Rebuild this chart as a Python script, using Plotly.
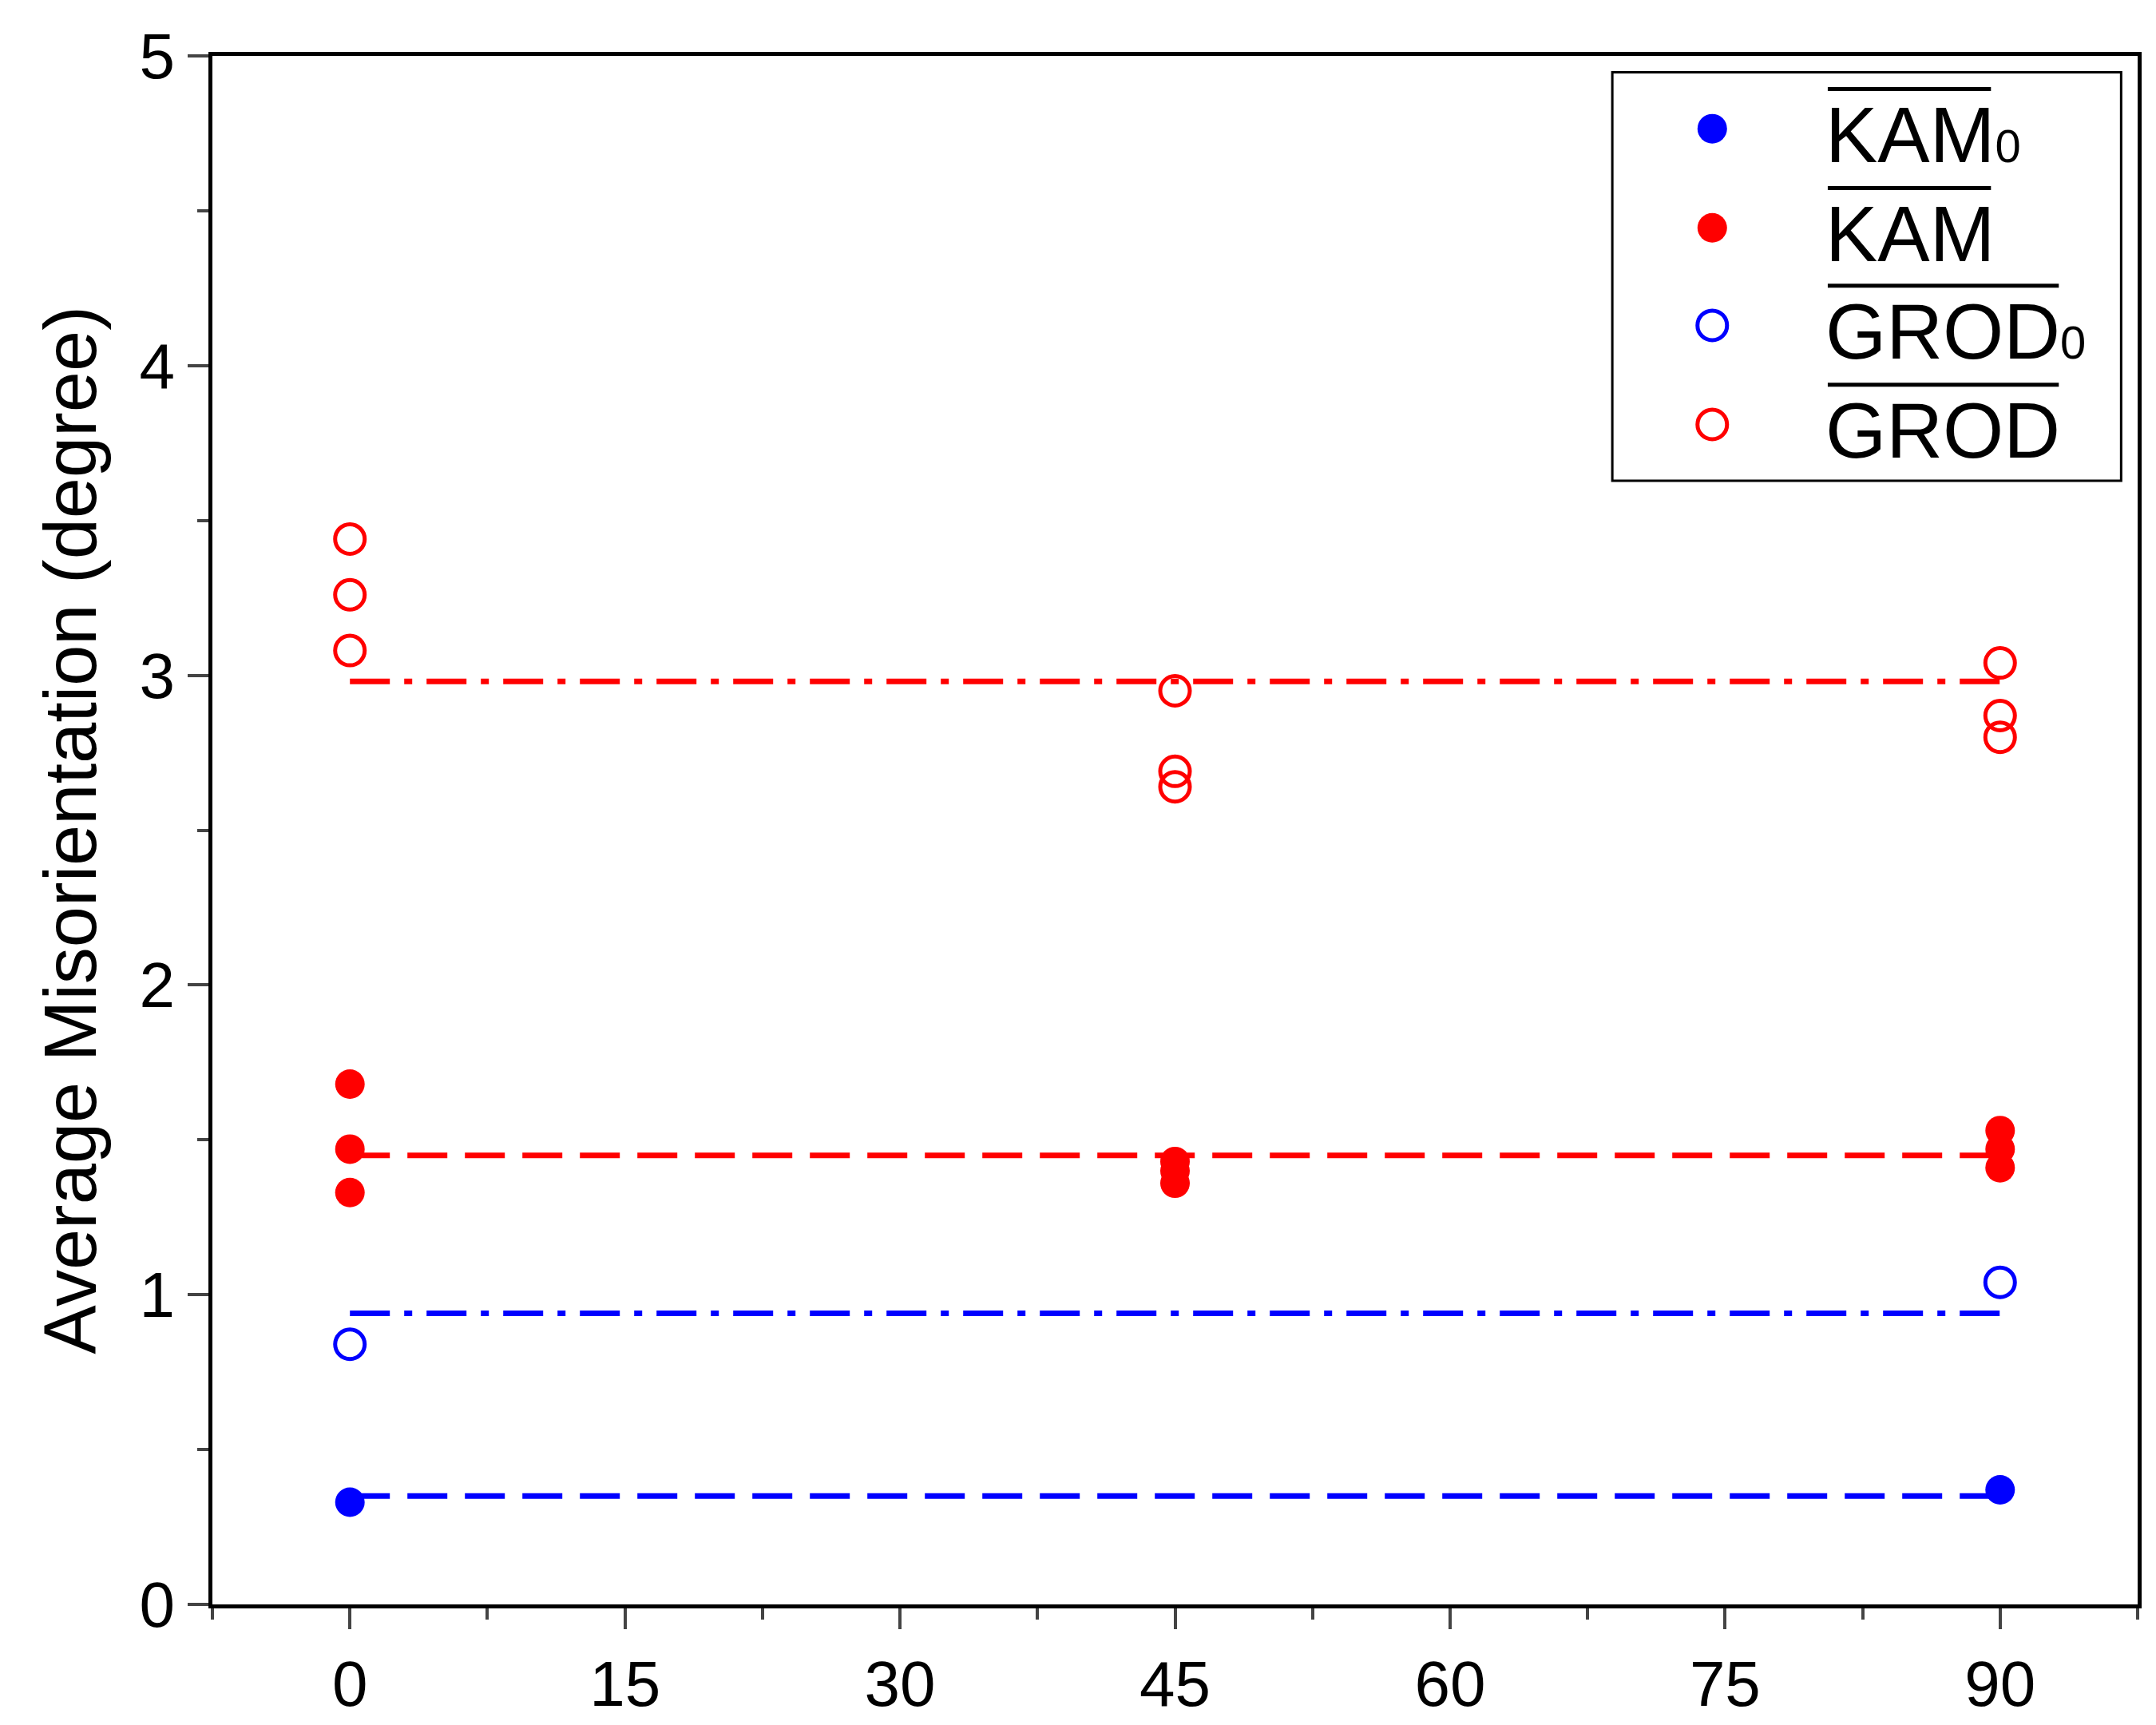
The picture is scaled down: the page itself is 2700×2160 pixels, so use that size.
import plotly.graph_objects as go

angles_kam0 = [0, 90]
kam0 = [0.33, 0.37]
kam0_mean = 0.35
angles_multi = [0, 0, 0, 45, 45, 45, 90, 90, 90]
kam = [1.68, 1.47, 1.33, 1.43, 1.40, 1.36, 1.53, 1.47, 1.41]
kam_mean = 1.45
angles_grod0 = [0, 90]
grod0 = [0.84, 1.04]
grod0_mean = 0.94
grod = [3.44, 3.26, 3.08, 2.95, 2.69, 2.64, 3.04, 2.87, 2.80]
grod_mean = 2.98
xticks = [0, 15, 30, 45, 60, 75, 90]

BLUE = "#0000ff"; RED = "#ff0000"
MS = 37; LW = 5
DASH = "50px,22px"
DASHDOT = "50px,18px,10px,18px"
fig = go.Figure()
for y, c, d in [(kam0_mean, BLUE, DASH), (kam_mean, RED, DASH),
                (grod0_mean, BLUE, DASHDOT), (grod_mean, RED, DASHDOT)]:
    fig.add_trace(go.Scatter(x=[0, 90], y=[y, y], mode="lines",
                             line=dict(color=c, width=7, dash=d), showlegend=False))
fig.add_trace(go.Scatter(x=angles_kam0, y=kam0, mode="markers", marker=dict(color=BLUE, size=MS)))
fig.add_trace(go.Scatter(x=angles_multi, y=kam, mode="markers", marker=dict(color=RED, size=MS)))
fig.add_trace(go.Scatter(x=angles_grod0, y=grod0, mode="markers",
                         marker=dict(color="rgba(0,0,0,0)", size=MS, line=dict(color=BLUE, width=LW))))
fig.add_trace(go.Scatter(x=angles_multi, y=grod, mode="markers",
                         marker=dict(color="rgba(0,0,0,0)", size=MS, line=dict(color=RED, width=LW))))

# manual legend
ly = [4.765, 4.445, 4.13, 3.81]
names = ["KAM<span style='font-size:58px'>0</span>", "KAM",
         "GROD<span style='font-size:58px'>0</span>", "GROD"]
olen = [89.5, 89.5, 93.2, 93.2]
cols = [BLUE, RED, BLUE, RED]
fills = [True, True, False, False]
fig.add_shape(type="rect", x0=68.85, x1=96.6, y0=3.628, y1=4.947,
              line=dict(color="black", width=3), fillcolor="white", layer="below")
for i in range(4):
    fig.add_trace(go.Scatter(x=[74.3], y=[ly[i]], mode="markers",
                             marker=dict(color=cols[i] if fills[i] else "rgba(0,0,0,0)", size=MS,
                                         line=dict(color=cols[i], width=LW if not fills[i] else 0))))
    fig.add_annotation(x=80.4, y=ly[i] - 0.02, text=names[i], showarrow=False, xanchor="left",
                       yanchor="middle", font=dict(size=98, color="black"))
    top = ly[i] + 0.128
    fig.add_shape(type="line", x0=80.6, x1=olen[i], y0=top, y1=top, line=dict(color="black", width=5))

fig.update_layout(
    width=2700, height=2160, plot_bgcolor="white", paper_bgcolor="white",
    showlegend=False, margin=dict(l=258, r=31, t=62, b=159),
    font=dict(family="Arial, Liberation Sans", color="black"),
)
fig.update_xaxes(range=[-7.5, 97.5], tickvals=xticks, ticks="outside", ticklen=26, tickwidth=4,
                 showline=True, linewidth=5, linecolor="black", mirror=True, showgrid=False,
                 zeroline=False, tickfont=dict(size=80),
                 minor=dict(dtick=7.5, tick0=0, ticks="outside", ticklen=14, tickwidth=4))
fig.update_yaxes(range=[0, 5], dtick=1, ticks="outside", ticklen=26, tickwidth=4,
                 showline=True, linewidth=5, linecolor="black", mirror=True, showgrid=False,
                 zeroline=False, tickfont=dict(size=80),
                 title=dict(text="Average Misorientation (degree)", font=dict(size=92), standoff=25),
                 minor=dict(dtick=0.5, ticks="outside", ticklen=14, tickwidth=4))
fig.write_html("out.html")
